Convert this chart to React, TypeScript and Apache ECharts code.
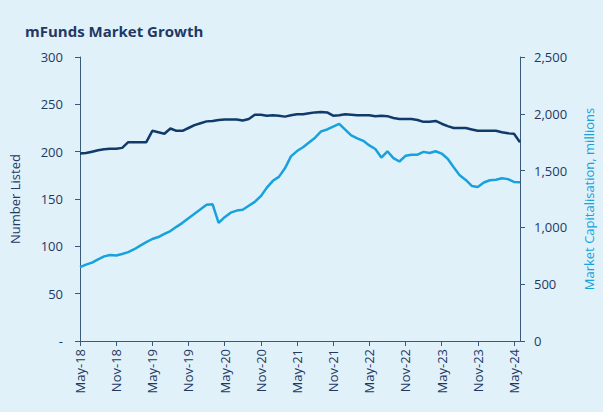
import React, { useEffect, useRef } from "react";
import * as echarts from "echarts";

const MONTHS = ["Jan", "Feb", "Mar", "Apr", "May", "Jun", "Jul", "Aug", "Sep", "Oct", "Nov", "Dec"];
// Monthly categories May-18 .. Jun-24
const categories: string[] = [];
for (let i = 0; i < 74; i++) {
  const m = (4 + i) % 12;
  const y = 18 + Math.floor((4 + i) / 12);
  categories.push(`${MONTHS[m]}-${y}`);
}

const numberListed = [
  198, 198.5, 200, 201.5, 202.5, 203, 203, 204, 210, 210, 210, 210,
  222, 220.5, 219, 224.5, 222, 222, 225, 228, 230, 232, 232.5, 233.5,
  234, 234, 234, 233, 234.5, 239, 239, 238, 238.5, 238, 237, 238.5,
  239.5, 239.5, 240.5, 241.5, 242, 241.5, 238, 238.5, 239.5, 239, 238.5, 238.5,
  238.5, 237.5, 238, 237.5, 235.5, 234.5, 234.5, 234.5, 233.5, 231.5, 231.5, 232.5,
  229.5, 227, 225, 225, 225, 223.5, 222, 222, 222, 222, 220.5, 219.5,
  219, 210,
];

const marketCap = [
  650, 672, 690, 718, 745, 757, 752, 766, 782, 808, 840, 870,
  898, 915, 942, 968, 1005, 1040, 1080, 1120, 1160, 1200, 1203, 1040,
  1090, 1130, 1148, 1155, 1190, 1225, 1275, 1350, 1410, 1445, 1520, 1625,
  1672, 1705, 1748, 1790, 1845, 1862, 1888, 1912, 1860, 1810, 1784, 1762,
  1722, 1690, 1615, 1670, 1610, 1580, 1630, 1640, 1640, 1665, 1655, 1670,
  1650, 1605, 1530, 1458, 1418, 1365, 1355, 1395, 1415, 1420, 1432, 1425,
  1400, 1397,
];

const NAVY = "#1F3864";
const DARK_LINE = "#0F3A6A";
const LIGHT_LINE = "#17A2DD";
const FONT = "Open Sans";

export default function App() {
  const ref = useRef<HTMLDivElement>(null);
  useEffect(() => {
    if (!ref.current) return;
    const chart = echarts.init(ref.current, undefined, { renderer: "svg" });
    chart.setOption({
      animation: false,
      backgroundColor: "#E1F1F9",
      textStyle: { fontFamily: FONT },
      title: {
        text: "mFunds Market Growth",
        left: 20,
        top: 18,
        textStyle: { fontFamily: FONT, fontSize: 15, fontWeight: "bold", color: NAVY },
      },
      grid: { left: 79, top: 57, right: 77, bottom: 71, containLabel: false },
      xAxis: {
        type: "category",
        data: categories,
        boundaryGap: false,
        axisLine: { lineStyle: { color: "#3A5A7C", width: 1 } },
        axisTick: { show: true, interval: 5, length: 5, lineStyle: { color: "#3A5A7C" } },
        axisLabel: {
          interval: 5,
          rotate: 90,
          color: NAVY,
          fontFamily: FONT,
          fontSize: 13,
          margin: 8,
        },
        splitLine: { show: false },
      },
      yAxis: [
        {
          type: "value",
          min: 0,
          max: 300,
          interval: 50,
          name: "Number Listed",
          nameLocation: "middle",
          nameRotate: 90,
          nameGap: 59,
          nameTextStyle: { color: NAVY, fontFamily: FONT, fontSize: 13 },
          axisLine: { show: true, lineStyle: { color: "#3A5A7C" } },
          axisTick: { show: true, length: 5, lineStyle: { color: "#3A5A7C" } },
          axisLabel: {
            color: NAVY,
            fontFamily: FONT,
            fontSize: 13,
            margin: 17,
            formatter: (v: number) => (v === 0 ? "-" : String(v)),
          },
          splitLine: { show: false },
        },
        {
          type: "value",
          min: 0,
          max: 2500,
          interval: 500,
          name: "Market Capitalisation, millions",
          nameLocation: "middle",
          nameRotate: 90,
          nameGap: 62,
          nameTextStyle: { color: LIGHT_LINE, fontFamily: FONT, fontSize: 13 },
          axisLine: { show: true, lineStyle: { color: "#3A5A7C" } },
          axisTick: { show: true, length: 5, lineStyle: { color: "#3A5A7C" } },
          axisLabel: {
            color: NAVY,
            fontFamily: FONT,
            fontSize: 13,
            margin: 14,
            formatter: (v: number) => v.toLocaleString("en-US"),
          },
          splitLine: { show: false },
        },
      ],
      series: [
        {
          name: "Number Listed",
          type: "line",
          yAxisIndex: 0,
          data: numberListed,
          showSymbol: false,
          lineStyle: { color: DARK_LINE, width: 2.5 },
          itemStyle: { color: DARK_LINE },
        },
        {
          name: "Market Capitalisation",
          type: "line",
          yAxisIndex: 1,
          data: marketCap,
          showSymbol: false,
          lineStyle: { color: LIGHT_LINE, width: 2.5 },
          itemStyle: { color: LIGHT_LINE },
        },
      ],
    });
    return () => chart.dispose();
  }, []);
  return (
    <div style={{ position: "fixed", left: 0, top: 0, width: 603, height: 412 }}>
      <div ref={ref} style={{ width: 603, height: 412 }} />
    </div>
  );
}
